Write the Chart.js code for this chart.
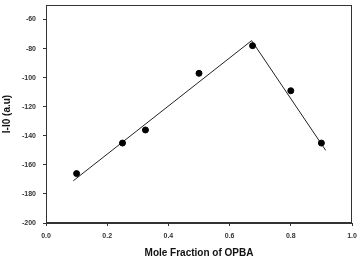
<!DOCTYPE html>
<html><head><meta charset="utf-8">
<script src="https://cdn.jsdelivr.net/npm/chart.js@4/dist/chart.umd.min.js"></script>
<style>html,body{margin:0;padding:0;background:#fff}#w{width:360px;height:258px}</style>
</head><body><div id="w"><canvas id="c"></canvas></div>
<script>
const moleFraction = [0.1, 0.25, 0.325, 0.5, 0.675, 0.8, 0.9];
const intensity = [-166, -145, -136, -97, -78, -109, -145];
const fitX = [0.089, 0.672, 0.914];
const fitY = [-171, -74.5, -150];
const xTicks = [0, 0.2, 0.4, 0.6, 0.8, 1.0];
const yTicks = [-200, -180, -160, -140, -120, -100, -80, -60];

const pts = moleFraction.map((x,i)=>({x, y: intensity[i]}));
const fit = fitX.map((x,i)=>({x, y: fitY[i]}));
const font = {family: "'Liberation Sans', Arial, sans-serif", size: 7, weight: 'bold'};
const titleFont = {family: font.family, size: 10, weight: 'bold'};

const frame = {id:'frame', afterDraw(c){const a=c.chartArea,x=c.ctx;x.save();x.strokeStyle='#333';x.lineWidth=1;x.strokeRect(a.left+0.5,a.top+0.5,a.right-a.left-1,a.bottom-a.top-1);x.restore();}};

new Chart(document.getElementById('c'), {
  type: 'scatter',
  data: {datasets: [
    {data: pts, backgroundColor:'#000', borderColor:'#000', pointRadius:3, showLine:false},
    {data: fit, showLine:true, borderColor:'#222', borderWidth:1, pointRadius:0, fill:false}
  ]},
  options: {
    responsive:true, maintainAspectRatio:false, animation:false,
    layout:{padding:{top:2,right:8,left:0,bottom:0}},
    plugins:{legend:{display:false}, tooltip:{enabled:false}},
    scales:{
      x:{type:'linear', min:0, max:1,
        afterFit(s){s.height=35; s.paddingRight=0; s.paddingLeft=0;},
        afterBuildTicks(s){s.ticks=xTicks.map(v=>({value:v}));},
        ticks:{font, color:'#333', padding:6, callback:v=>v.toFixed(1)},
        grid:{display:true, drawOnChartArea:false, drawTicks:true, tickLength:3, color:'#333'},
        border:{display:true, color:'#333'},
        title:{display:true, text:'Mole Fraction of OPBA', font:titleFont, color:'#111', padding:{top:4,bottom:-1}}
      },
      y:{type:'linear', min:-200, max:-50,
        afterFit(s){s.width=46; s.paddingTop=0; s.paddingBottom=0;},
        afterBuildTicks(s){s.ticks=yTicks.map(v=>({value:v}));},
        ticks:{font, color:'#333', padding:7},
        grid:{display:true, drawOnChartArea:false, drawTicks:true, tickLength:3, color:'#333'},
        border:{display:true, color:'#333'},
        title:{display:true, text:'I-I0 (a.u)', font:titleFont, color:'#111', padding:{top:1,bottom:4}}
      }
    }
  },
  plugins:[frame]
});
</script></body></html>
